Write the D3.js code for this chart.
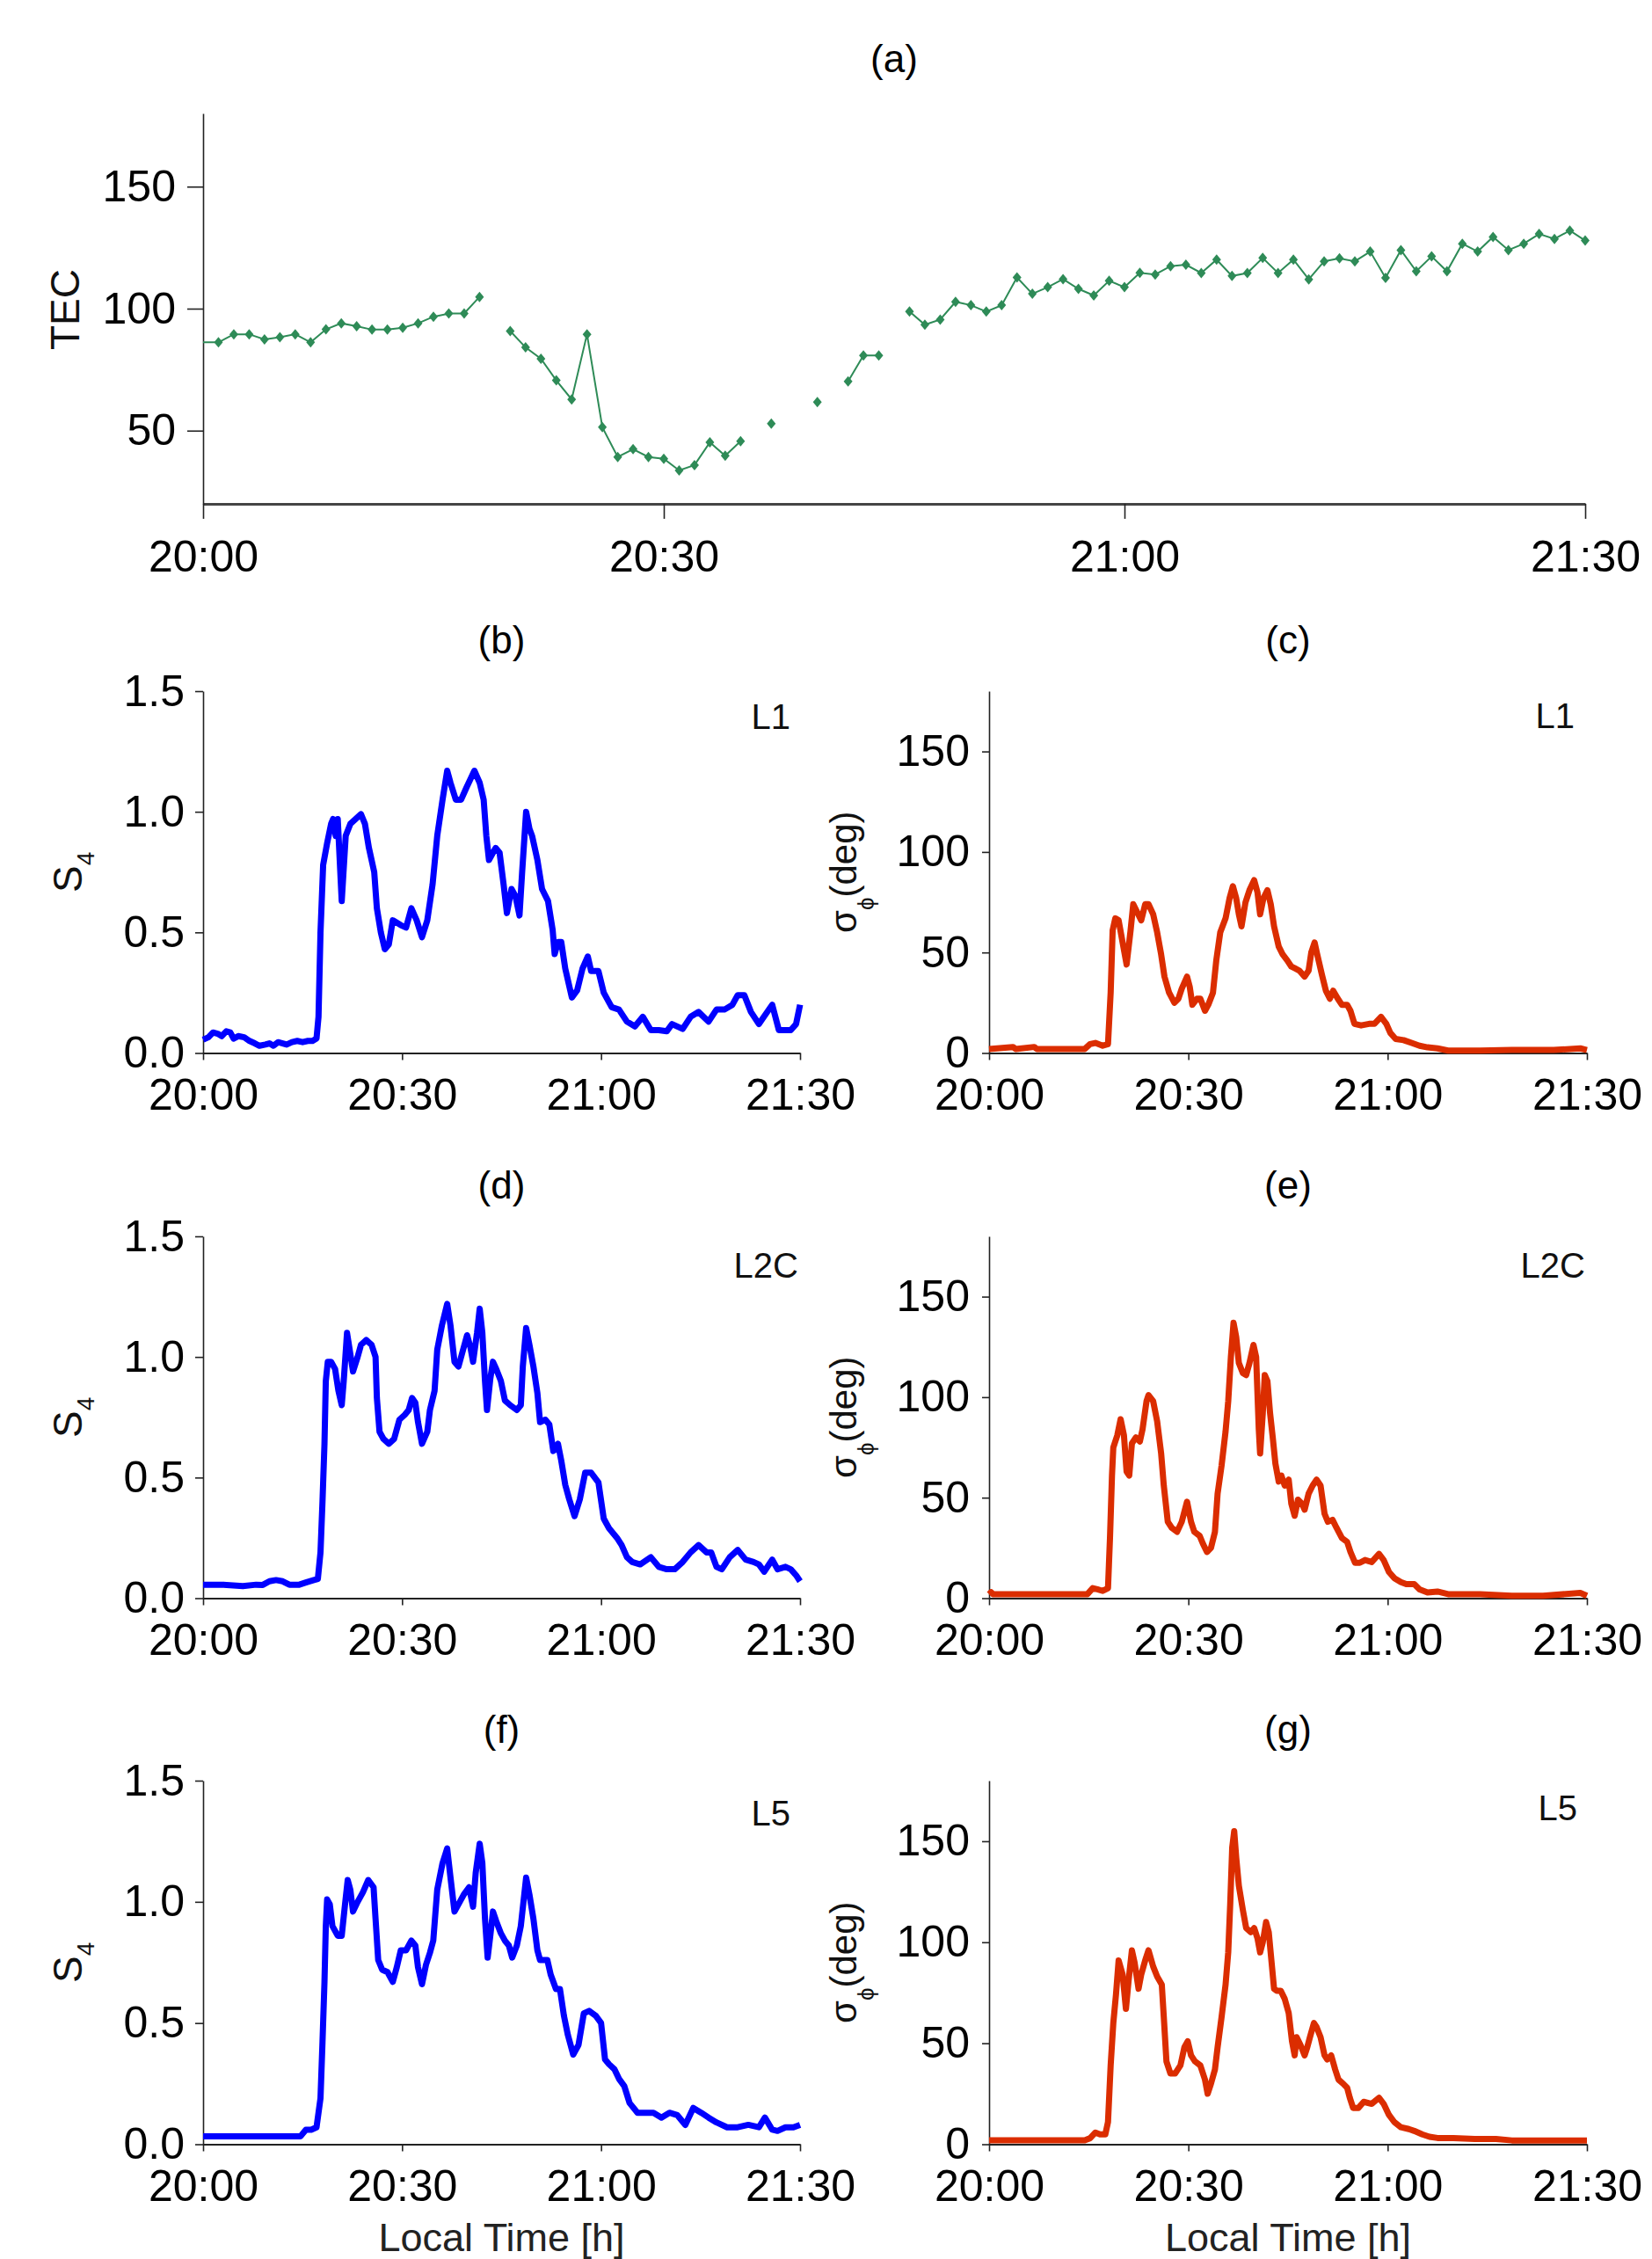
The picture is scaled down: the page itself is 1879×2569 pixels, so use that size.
<!DOCTYPE html>
<html>
<head>
<meta charset="utf-8">
<script src="https://cdn.jsdelivr.net/npm/d3@7"></script>
<style>
  body { margin: 0; background: #fff; }
  svg { display: block; font-family: "Liberation Sans", Arial, sans-serif; }
</style>
</head>
<body>
<div id="chart"></div>
<script>
// x axis: minutes after 20:00 local time
const timeTicks  = [0, 30, 60, 90];
const timeLabels = ["20:00", "20:30", "21:00", "21:30"];

// (a) TEC, one sample per minute (null = no data)
const tecValues = [
  86.2, 86.2, 89.5, 89.5, 87.4, 88.3, 89.5, 86.2, 91.5, 94.0,
  92.8, 91.4, 91.4, 92.2, 94.0, 96.7, 98.0, 98.0, 104.8, null,
  90.8, 84.1, 79.5, 70.6, 62.8, 89.5, 51.4, 39.2, 42.4, 39.2,
  38.5, 33.7, 35.9, 45.2, 39.7, 45.7, null, 52.9, null, null,
  61.7, null, 70.2, 80.8, 80.8, null, 98.8, 93.4, 95.5, 102.8,
  101.4, 98.8, 101.4, 112.8, 106.1, 108.8, 112.1, 108.1, 105.4, 111.4,
  108.8, 114.7, 114.0, 117.4, 118.0, 114.6, 120.1, 113.4, 114.6, 120.8,
  114.6, 120.1, 112.0, 119.4, 120.6, 119.4, 123.4, 112.6, 124.0, 115.3,
  121.4, 115.3, 126.6, 123.4, 129.4, 124.0, 126.6, 130.6, 128.6, 132.0,
  127.9
];
const tecTicks = [50, 100, 150];

// S4 series: [minute, S4]
const s4L1 = [[0,0.055],[0.8,0.065],[1.5,0.085],[2.2,0.08],[2.8,0.07],[3.5,0.09],[4.1,0.085],[4.6,0.06],[5.3,0.07],[6.2,0.065],[7,0.05],[7.8,0.04],[8.5,0.03],[9.4,0.035],[10,0.04],[10.6,0.03],[11.3,0.045],[12,0.04],[12.6,0.035],[13.4,0.045],[14.2,0.05],[15,0.045],[15.8,0.05],[16.5,0.05],[17.1,0.06],
  [17.4,0.15],[17.7,0.5],[18.1,0.78],[18.7,0.87],[19.3,0.95],[19.6,0.97],[20,0.9],[20.3,0.97],[20.9,0.63],[21.5,0.9],[22.2,0.95],[23,0.97],[23.8,0.99],[24.4,0.95],[25,0.85],[25.8,0.75],[26.2,0.6],[26.8,0.5],[27.4,0.43],[28,0.45],[28.6,0.55],[29.8,0.53],[30.6,0.52],[31.4,0.6],[32.2,0.55],[33,0.48],[33.8,0.55],[34.6,0.7],[35.3,0.9],[36.1,1.05],[36.8,1.17],[37.3,1.12],[38.1,1.05],[38.9,1.05],[39.7,1.1],[40.9,1.17],[41.7,1.12],[42.3,1.05],[42.7,0.9],[43.1,0.8],[43.7,0.83],[44.1,0.85],[44.7,0.83],[45.3,0.7],[45.8,0.58],[46.5,0.68],[47.1,0.65],[47.7,0.57],[48.1,0.75],[48.7,1.0],[49.2,0.93],[49.6,0.9],[50.4,0.8],[51.1,0.68],[52,0.63],[52.7,0.51],[53,0.41],[53.5,0.46],[54,0.46],[54.6,0.35],[55.6,0.23],[56.4,0.26],[57.2,0.35],[58,0.4],[58.5,0.34],[59.6,0.34],[60.4,0.25],[61.6,0.19],[62.7,0.18],[63.9,0.13],[65.1,0.11],[66.3,0.15],[67.5,0.095],[68.7,0.095],[69.9,0.09],[70.7,0.12],[72.3,0.1],[73.5,0.15],[74.7,0.17],[76.2,0.13],[77.4,0.18],[78.6,0.18],[79.8,0.2],[80.6,0.24],[81.6,0.24],[82.6,0.17],[83.8,0.12],[85.8,0.2],[86.8,0.095],[88.6,0.095],[89.4,0.12],[90,0.2]];

const s4L2C = [[0,0.056],[3,0.056],[6,0.05],[8,0.056],[9,0.055],[10,0.07],[11,0.075],[12,0.07],[13,0.056],[14.5,0.056],[15.5,0.065],[16.7,0.075],[17.3,0.08],
  [17.7,0.19],[18,0.4],[18.3,0.64],[18.5,0.9],[18.8,0.98],[19.3,0.98],[19.9,0.95],[20.4,0.86],[20.9,0.8],[21.2,0.9],[21.7,1.1],[22.1,1.03],[22.6,0.94],[23.3,1.0],[23.8,1.05],[24.6,1.07],[25.4,1.05],[26,1.0],[26.2,0.83],[26.6,0.69],[27.2,0.66],[28,0.64],[28.8,0.66],[29.6,0.74],[30.4,0.76],[31,0.78],[31.5,0.83],[32,0.81],[32.4,0.73],[33,0.64],[33.8,0.69],[34.2,0.78],[34.9,0.86],[35.3,1.03],[36,1.13],[36.8,1.22],[37.3,1.13],[37.9,0.98],[38.5,0.96],[39.2,1.03],[39.8,1.09],[40.3,1.04],[40.7,0.98],[41.3,1.1],[41.7,1.2],[42.1,1.1],[42.5,0.9],[42.8,0.78],[43.3,0.91],[43.7,0.98],[44.2,0.95],[44.9,0.9],[45.5,0.82],[46.3,0.8],[47.3,0.78],[47.9,0.8],[48.2,0.96],[48.7,1.12],[49.2,1.05],[49.8,0.96],[50.4,0.85],[50.8,0.73],[51.6,0.74],[52.2,0.72],[52.8,0.61],[53.5,0.64],[54,0.57],[54.6,0.47],[55.2,0.41],[56,0.34],[56.8,0.41],[57.6,0.52],[58.5,0.52],[59.6,0.48],[60.4,0.33],[61.2,0.29],[62.4,0.25],[63.1,0.22],[63.9,0.17],[64.7,0.15],[65.9,0.14],[67.5,0.17],[68.7,0.13],[69.9,0.12],[71.1,0.12],[72.3,0.15],[73.5,0.19],[74.7,0.22],[75.9,0.19],[76.6,0.19],[77.4,0.13],[78.2,0.12],[79.4,0.17],[80.6,0.2],[81.8,0.16],[83,0.15],[83.8,0.14],[84.6,0.11],[85.8,0.16],[86.6,0.12],[87.8,0.13],[88.6,0.12],[89.4,0.095],[90,0.07]];

const s4L5 = [[0,0.033],[14.7,0.033],[15.5,0.06],[16.3,0.06],[17.1,0.07],
  [17.7,0.19],[18,0.42],[18.3,0.67],[18.5,0.9],[18.7,1.01],[19.1,0.99],[19.5,0.9],[20.3,0.86],[20.9,0.86],[21.4,0.99],[21.8,1.09],[22.2,1.05],[22.6,0.96],[23.3,1.0],[24.1,1.04],[24.9,1.09],[25.7,1.06],[26,0.93],[26.4,0.76],[27,0.72],[27.8,0.71],[28.6,0.67],[29.2,0.73],[29.8,0.8],[30.6,0.8],[31.4,0.84],[32,0.82],[32.4,0.73],[33,0.66],[33.6,0.74],[34.2,0.79],[34.7,0.84],[35.3,1.05],[36.1,1.16],[36.8,1.22],[37.3,1.1],[37.9,0.96],[38.5,0.99],[39.3,1.03],[40.1,1.06],[40.7,0.98],[41.1,1.12],[41.7,1.24],[42.1,1.16],[42.5,0.93],[42.9,0.77],[43.3,0.86],[43.7,0.96],[44.2,0.92],[44.9,0.87],[45.5,0.84],[46.1,0.82],[46.6,0.77],[47.3,0.82],[47.9,0.9],[48.7,1.1],[49.2,1.03],[49.8,0.93],[50.4,0.8],[50.8,0.76],[51.9,0.76],[52.4,0.7],[53.2,0.64],[53.8,0.64],[54.4,0.53],[55,0.45],[55.8,0.37],[56.6,0.41],[57.4,0.54],[58.2,0.55],[59.2,0.53],[60,0.5],[60.6,0.35],[61.2,0.33],[62,0.31],[62.7,0.27],[63.5,0.24],[64.3,0.17],[65.5,0.13],[66.7,0.13],[67.9,0.13],[69.1,0.11],[70.3,0.13],[71.5,0.12],[72.7,0.08],[73.9,0.15],[75.1,0.13],[76.2,0.11],[77.4,0.09],[79,0.07],[80.6,0.07],[82.2,0.08],[83.8,0.07],[84.7,0.11],[85.8,0.06],[86.6,0.055],[87.8,0.07],[89,0.07],[90,0.08]];

// sigma-phi series: [minute, deg]
const sigL1 = [[0,2],[3.6,3],[4,2],[6.8,3],[7.2,2],[14.4,2],[15.2,4.4],[16,5],[17.1,3.6],[17.9,4.4],[18.3,30],[18.6,61],[19,67],[19.5,66],[20.1,55],[20.7,44],[21.3,61],[21.7,74],[22.3,70],[22.9,66],[23.5,74],[24,74],[24.7,69],[25.3,60],[25.9,49],[26.4,38],[27.1,30],[27.9,25],[28.5,27],[29,32],[29.8,38],[30.2,33],[30.6,24],[31.3,27],[31.8,27],[32.5,21],[33,24],[33.7,30],[34.2,46],[34.8,60],[35.6,67],[36.2,77],[36.7,83],[37.2,77],[37.6,69],[38,63],[38.6,75],[39.2,81],[39.9,86],[40.4,80],[40.8,69],[41.3,77],[41.9,81],[42.4,74],[42.9,63],[43.6,53],[44.2,49],[44.9,46],[45.5,43],[46.1,42],[46.7,41],[47.5,38],[48.1,41],[48.5,50],[49,55],[49.4,49],[50.1,39],[50.7,31],[51.3,27],[51.8,31],[52.5,27],[53.1,24],[53.9,24],[54.4,21],[55,14.5],[56,13.7],[57.2,14.5],[58,14.5],[59,18],[59.8,14.5],[60.4,10],[61.2,7],[62.4,6.4],[63.6,5],[64.8,3.6],[66,2.8],[67.5,2.3],[69.1,1.2],[73.9,1.2],[78.7,1.5],[85,1.5],[89,2.3],[90,1.5]];

const sigL2C = [[0,2],[0.3,3],[0.6,2],[14.8,2],[15.6,5],[16.3,4.4],[17.1,3.6],[17.9,5],[18.2,30],[18.5,61],[18.7,75],[19.3,81],[19.8,89],[20.3,81],[20.7,63],[21.1,61],[21.5,77],[22.1,80],[22.7,78],[23.1,84],[23.7,98],[24,101],[24.7,98],[25.3,88],[25.9,72],[26.3,56],[26.9,38],[27.5,35],[28.3,33],[29,38],[29.8,48],[30.4,38],[30.9,33],[31.7,31],[32.2,27],[32.8,23],[33.4,25],[34,33],[34.4,52],[35,66],[35.6,83],[36,98],[36.4,120],[36.8,137],[37.2,130],[37.6,117],[38.2,112],[38.7,111],[39.2,117],[39.8,126],[40.2,120],[40.6,84],[40.8,72],[41.2,92],[41.5,111],[41.9,108],[42.3,92],[42.7,80],[43.1,67],[43.6,58],[44,61],[44.5,56],[45.1,59],[45.5,47],[46,41],[46.5,49],[47.1,47],[47.5,44],[48.1,52],[48.7,56],[49.3,59],[49.9,56],[50.5,42],[51,38],[51.7,39],[52.3,35],[53.1,30],[53.9,28],[54.4,23],[55.1,17.6],[55.8,17.6],[56.6,19],[57.6,18],[58.7,22],[59.4,19],[60.2,13],[61,10],[62,8],[62.8,7],[64,7],[64.8,4.4],[66,2.8],[67.5,3.3],[69.1,2],[73.9,2],[78.7,1.2],[83.4,1.2],[89,2.6],[90,1.2]];

const sigL5 = [[0,2],[14.4,2],[15.2,3],[16,5.8],[16.7,4.9],[17.5,4.9],[17.9,11],[18.3,39],[18.7,60],[19.1,74],[19.5,91],[20.1,84],[20.6,67],[21,81],[21.5,96],[21.9,90],[22.5,77],[22.9,84],[23.5,91],[24,96],[24.7,88],[25.3,83],[26,79],[26.3,63],[26.7,41],[27.3,35],[28,35],[28.8,39],[29.4,48],[29.9,51],[30.4,44],[31,41],[31.8,39],[32.5,32],[32.9,25],[33.4,30],[34,37],[34.4,48],[35,63],[35.6,79],[36,95],[36.3,119],[36.6,147],[36.9,155],[37.2,142],[37.6,128],[38.2,116],[38.7,107],[39.4,105],[39.9,107],[40.4,102],[40.8,95],[41.2,100],[41.7,110],[42.1,105],[42.5,91],[42.9,77],[43.3,76],[43.9,76],[44.5,72],[45.1,65],[45.6,51],[46,44],[46.3,53],[46.9,49],[47.5,44],[47.9,48],[48.3,53],[48.9,60],[49.3,58],[49.9,53],[50.5,44],[50.9,42],[51.5,44],[52.1,37],[52.6,32],[53.3,30],[53.9,28],[54.3,23],[54.8,18],[55.6,18],[56.4,21],[57.6,20],[58.7,23],[59.4,20],[60.2,14.5],[61,11],[62,8.4],[63.2,7.5],[64,6.6],[65.2,4.9],[66.3,3.7],[67.5,3.1],[69.9,3.1],[73.1,2.6],[76.3,2.6],[78.7,1.9],[90,1.9]];

const s4Ticks  = [0, 0.5, 1.0, 1.5];
const sigTicks = [0, 50, 100, 150];

// ---- layout ----
const W = 1879, H = 2569;
const FONT = "'Liberation Sans', Arial, sans-serif";
const svg = d3.select("#chart").append("svg")
  .attr("width", W)
  .attr("height", H);

function styleAxis(g, domainWidth, domainColor) {
  g.attr("font-size", 50).attr("font-family", FONT);
  g.select(".domain").attr("stroke", domainColor).attr("stroke-width", domainWidth);
  g.selectAll(".tick line").attr("stroke", "#222").attr("stroke-width", 1.6);
  g.selectAll(".tick text").attr("fill", "#000");
}

// ---- (a) TEC ----
const xA = d3.scaleLinear().domain([0, 90]).range([231, 1803]);
const yA = d3.scaleLinear().domain([20, 180]).range([573, 129]);

svg.append("g")
  .attr("transform", "translate(0,573)")
  .call(d3.axisBottom(xA).tickValues(timeTicks).tickFormat((d, i) => timeLabels[i])
    .tickSizeInner(17).tickSizeOuter(0).tickPadding(24))
  .call(g => styleAxis(g, 3, "#444"));

svg.append("g")
  .attr("transform", "translate(231,0)")
  .call(d3.axisLeft(yA).tickValues(tecTicks).tickSizeInner(18).tickSizeOuter(0).tickPadding(13))
  .call(g => styleAxis(g, 1.6, "#222"));

const tec = tecValues.map((v, i) => ({ m: i, v }));
svg.append("path")
  .datum(tec)
  .attr("fill", "none")
  .attr("stroke", "#2e8b57")
  .attr("stroke-width", 2)
  .attr("d", d3.line().defined(d => d.v != null).x(d => xA(d.m)).y(d => yA(d.v)));

// small diamond marker
const diamond = { draw(ctx) { ctx.moveTo(0, -6); ctx.lineTo(5, 0); ctx.lineTo(0, 6); ctx.lineTo(-5, 0); ctx.closePath(); } };
svg.append("g").selectAll("path")
  .data(tec.filter(d => d.v != null && d.m > 0))   // first sample sits on the axis
  .enter().append("path")
    .attr("transform", d => `translate(${xA(d.m)},${yA(d.v)})`)
    .attr("d", d3.symbol().type(diamond)())
    .attr("fill", "#2e8b57");

svg.append("text")
  .attr("x", 1017).attr("y", 82)
  .attr("text-anchor", "middle")
  .attr("font-size", 44).attr("font-family", FONT)
  .text("(a)");

svg.append("text")
  .attr("transform", "translate(90,352) rotate(-90)")
  .attr("text-anchor", "middle")
  .attr("font-size", 46).attr("font-family", FONT).attr("fill", "#111")
  .text("TEC");

// ---- panels (b)-(g) ----
const rows = [
  { top: 786,  bottom: 1197.5 },
  { top: 1406, bottom: 1817.5 },
  { top: 2025, bottom: 2438.5 }
];
const cols = [
  { left: 231,  right: 910 },
  { left: 1125, right: 1805 }
];

const panels = [
  { tag: "(b)", data: s4L1,   kind: "s4",  row: 0, col: 0, band: "L1",  bx: 11, by: 43 },
  { tag: "(c)", data: sigL1,  kind: "sig", row: 0, col: 1, band: "L1",  bx: 14, by: 42 },
  { tag: "(d)", data: s4L2C,  kind: "s4",  row: 1, col: 0, band: "L2C", bx: 2,  by: 47 },
  { tag: "(e)", data: sigL2C, kind: "sig", row: 1, col: 1, band: "L2C", bx: 2,  by: 47 },
  { tag: "(f)", data: s4L5,   kind: "s4",  row: 2, col: 0, band: "L5",  bx: 11, by: 51 },
  { tag: "(g)", data: sigL5,  kind: "sig", row: 2, col: 1, band: "L5",  bx: 11, by: 45 }
];

panels.forEach(p => {
  const r = rows[p.row], c = cols[p.col];
  const isS4 = p.kind === "s4";
  const x = d3.scaleLinear().domain([0, 90]).range([c.left, c.right]);
  const y = d3.scaleLinear().domain(isS4 ? [0, 1.5] : [0, 180]).range([r.bottom, r.top]);

  svg.append("g")
    .attr("transform", `translate(0,${r.bottom})`)
    .call(d3.axisBottom(x).tickValues(timeTicks).tickFormat((d, i) => timeLabels[i])
      .tickSizeInner(8).tickSizeOuter(0).tickPadding(21))
    .call(g => styleAxis(g, 2.2, "#222"));

  svg.append("g")
    .attr("transform", `translate(${c.left},0)`)
    .call(d3.axisLeft(y).tickValues(isS4 ? s4Ticks : sigTicks)
      .tickFormat(isS4 ? d3.format(".1f") : d3.format("d"))
      .tickSizeInner(isS4 ? 9 : 8).tickSizeOuter(0).tickPadding(isS4 ? 12 : 14))
    .call(g => styleAxis(g, 1.6, "#222"));

  svg.append("path")
    .datum(p.data)
    .attr("fill", "none")
    .attr("stroke", isS4 ? "#0000ff" : "#db2d00")
    .attr("stroke-width", 7)
    .attr("stroke-linejoin", "round")
    .attr("d", d3.line().x(d => x(d[0])).y(d => y(d[1])));

  const cx = (c.left + c.right) / 2;
  svg.append("text")
    .attr("x", cx).attr("y", r.top - 43)
    .attr("text-anchor", "middle")
    .attr("font-size", 44).attr("font-family", FONT)
    .text(p.tag);

  svg.append("text")
    .attr("x", c.right - p.bx).attr("y", r.top + p.by)
    .attr("text-anchor", "end")
    .attr("font-size", 40).attr("font-family", FONT).attr("fill", "#111")
    .text(p.band);

  const cy = (r.top + r.bottom) / 2;
  if (isS4) {
    const t = svg.append("text")
      .attr("transform", `translate(93,${cy}) rotate(-90)`)
      .attr("text-anchor", "middle")
      .attr("font-size", 46).attr("font-family", FONT).attr("fill", "#111");
    t.append("tspan").text("S");
    t.append("tspan").attr("dy", 14).attr("font-size", 28).text("4");
  } else {
    const t = svg.append("text")
      .attr("transform", `translate(974,${cy}) rotate(-90)`)
      .attr("text-anchor", "middle")
      .attr("font-size", 42).attr("font-family", FONT).attr("fill", "#111");
    t.append("tspan").text("σ");
    t.append("tspan").attr("dy", 20).attr("font-size", 26).text("ϕ");
    t.append("tspan").attr("dy", -20).text("(deg)");
  }

  if (p.row === 2) {
    svg.append("text")
      .attr("x", cx).attr("y", 2560)
      .attr("text-anchor", "middle")
      .attr("font-size", 45).attr("font-family", FONT).attr("fill", "#222")
      .text("Local Time [h]");
  }
});
</script>
</body>
</html>
